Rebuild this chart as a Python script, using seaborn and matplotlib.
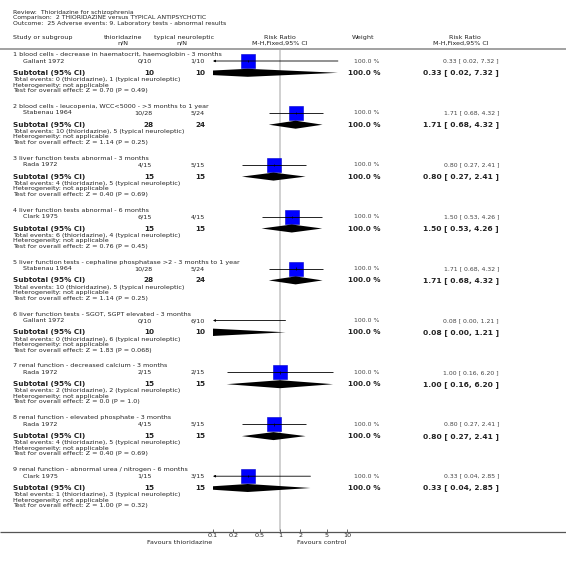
import numpy as np
import pandas as pd
import seaborn as sns
import matplotlib.pyplot as plt

sns.set_theme(style="white")
plt.rcParams['font.family'] = ['DejaVu Sans']

# ---------------------------------------
# data
review = "Review:  Thioridazine for schizophrenia"
comparison = "Comparison:  2 THIORIDAZINE versus TYPICAL ANTIPSYCHOTIC"
outcome = "Outcome:  25 Adverse events: 9. Laboratory tests - abnormal results"

groups = [
    "1 blood cells - decrease in haematocrit, haemoglobin - 3 months",
    "2 blood cells - leucopenia, WCC<5000 - >3 months to 1 year",
    "3 liver function tests abnormal - 3 months",
    "4 liver function tests abnormal - 6 months",
    "5 liver function tests - cephaline phosphatase >2 - 3 months to 1 year",
    "6 liver function tests - SGOT, SGPT elevated - 3 months",
    "7 renal function - decreased calcium - 3 months",
    "8 renal function - elevated phosphate - 3 months",
    "9 renal function - abnormal urea / nitrogen - 6 months",
]
studies = ["Gallant 1972", "Stabenau 1964", "Rada 1972", "Clark 1975", "Stabenau 1964",
           "Gallant 1972", "Rada 1972", "Rada 1972", "Clark 1975"]
thio_events = [0, 10, 4, 6, 10, 0, 2, 4, 1]
thio_n = [10, 28, 15, 15, 28, 10, 15, 15, 15]
ctrl_events = [1, 5, 5, 4, 5, 6, 2, 5, 3]
ctrl_n = [10, 24, 15, 15, 24, 10, 15, 15, 15]
rr = [0.33, 1.71, 0.80, 1.50, 1.71, 0.08, 1.00, 0.80, 0.33]
rr_lo = [0.02, 0.68, 0.27, 0.53, 0.68, 0.00, 0.16, 0.27, 0.04]
rr_hi = [7.32, 4.32, 2.41, 4.26, 4.32, 1.21, 6.20, 2.41, 2.85]
weight = [100.0] * 9
z_vals = ["0.70", "1.14", "0.40", "0.76", "1.14", "1.83", "0.0", "0.40", "1.00"]
p_vals = ["0.49", "0.25", "0.69", "0.45", "0.25", "0.068", "1.0", "0.69", "0.32"]

ticks = [0.1, 0.2, 0.5, 1, 2, 5, 10]
tick_labels = ["0.1", "0.2", "0.5", "1", "2", "5", "10"]

# ---------------------------------------
# layout (pixel rows)
W, H = 566, 561
g0, gstep = 54.5, 51.9
df = pd.DataFrame({"study": studies, "rr": rr, "lo": rr_lo, "hi": rr_hi})
df["y_head"] = g0 + gstep * np.arange(len(groups))
df["y_study"] = df["y_head"] + 6.5
df["y_sub"] = df["y_head"] + 18.3

fig = plt.figure(figsize=(W / 100, H / 100), dpi=100)
bg = fig.add_axes([0, 0, 1, 1])
bg.set_xlim(0, W)
bg.set_ylim(H, 0)
bg.axis("off")

ax = fig.add_axes([213 / W, 0, 134 / W, 1])
ax.patch.set_alpha(0)

fs, fs_small, fs_bold, fs_bold_ci = 4.6, 4.4, 5.2, 5.4
tc = "#222222"
sc = "#444444"

# titles and headers
for y, t in zip([12.2, 17.8, 23.4], [review, comparison, outcome]):
    bg.text(13, y, t, fontsize=4.4, va="center", color=tc)
bg.text(13, 37.3, "Study or subgroup", fontsize=fs, va="center", color=tc)
bg.text(123, 37.3, "thioridazine", fontsize=fs, va="center", ha="center", color=tc)
bg.text(123, 43.3, "n/N", fontsize=fs, va="center", ha="center", color=tc)
bg.text(184, 37.3, "typical neuroleptic", fontsize=fs, va="center", ha="center", color=tc)
bg.text(182, 43.3, "n/N", fontsize=fs, va="center", ha="center", color=tc)
bg.text(280, 37.3, "Risk Ratio", fontsize=fs, va="center", ha="center", color=tc)
bg.text(280, 43.3, "M-H,Fixed,95% CI", fontsize=fs, va="center", ha="center", color=tc)
bg.text(363, 37.3, "Weight", fontsize=fs, va="center", ha="center", color=tc)
bg.text(465, 37.3, "Risk Ratio", fontsize=fs, va="center", ha="center", color=tc)
bg.text(461, 43.3, "M-H,Fixed,95% CI", fontsize=fs, va="center", ha="center", color=tc)

bg.hlines(49, 0, W, color="#9a9a9a", lw=1.3)
bg.hlines(531.5, 0, W, color="#555555", lw=0.9)

# squares (all weights 100 %), only those whose estimate lies inside the axis
sns.scatterplot(data=df[(df["rr"] >= 0.1) & (df["rr"] <= 10)], x="rr", y="y_study",
                marker="s", s=100, color="#0000ff", edgecolor="#0000cc",
                linewidth=0.4, ax=ax, legend=False, zorder=2)
ax.set_xscale("log")
ax.set_xlim(0.1, 10)
ax.set_ylim(H, 0)
ax.axis("off")

# line of no effect
ax.vlines(1, 49.8, 531, color="#d0d0d0", lw=1.4, zorder=0)

for i, r in df.iterrows():
    y = r["y_head"]
    bg.text(13, y, groups[i], fontsize=fs, va="center", color=tc)
    ys = r["y_study"]
    bg.text(23, ys, r["study"], fontsize=fs, va="center", color=tc)
    bg.text(152, ys, f"{thio_events[i]}/{thio_n[i]}", fontsize=fs, va="center", ha="right", color=tc)
    bg.text(205, ys, f"{ctrl_events[i]}/{ctrl_n[i]}", fontsize=fs, va="center", ha="right", color=tc)
    bg.text(379, ys, f"{weight[i]:.1f} %", fontsize=fs_small, va="center", ha="right", color=sc)
    ci = f"{r['rr']:.2f} [ {r['lo']:.2f}, {r['hi']:.2f} ]"
    bg.text(499, ys, ci, fontsize=fs_small, va="center", ha="right", color=sc)

    # study CI line
    lo, hi = r["lo"], r["hi"]
    if lo < 0.1:
        ax.annotate("", xy=(0.1, ys), xytext=(min(hi, 10), ys),
                    arrowprops=dict(arrowstyle="-|>", color="black", lw=0.6,
                                    mutation_scale=3, shrinkA=0, shrinkB=0), zorder=3)
    else:
        ax.hlines(ys, lo, min(hi, 10), color="black", lw=0.6, zorder=3)
    if 0.1 <= r["rr"] <= 10:
        ax.vlines(r["rr"], ys - 1.2, ys + 1.2, color="black", lw=0.5, zorder=3)

    # subtotal
    yb = r["y_sub"]
    bg.text(13, yb, "Subtotal (95% CI)", fontsize=fs_bold, fontweight="bold", va="center", color=tc)
    bg.text(154, yb, f"{thio_n[i]}", fontsize=fs_bold, fontweight="bold", va="center", ha="right", color=tc)
    bg.text(205, yb, f"{ctrl_n[i]}", fontsize=fs_bold, fontweight="bold", va="center", ha="right", color=tc)
    bg.text(380, yb, f"{weight[i]:.1f} %", fontsize=fs_bold, fontweight="bold", va="center", ha="right", color=tc)
    bg.text(499, yb, ci, fontsize=fs_bold_ci, fontweight="bold", va="center", ha="right", color=tc)
    dlo = max(lo, 0.001)
    ax.fill([dlo, r["rr"], hi, r["rr"]], [yb, yb - 4, yb, yb + 4], color="black", lw=0, zorder=3)

    bg.text(13, y + 25, f"Total events: {thio_events[i]} (thioridazine), {ctrl_events[i]} (typical neuroleptic)",
            fontsize=fs, va="center", color=tc)
    bg.text(13, y + 30.5, "Heterogeneity: not applicable", fontsize=fs, va="center", color=tc)
    bg.text(13, y + 36, f"Test for overall effect: Z = {z_vals[i]} (P = {p_vals[i]})",
            fontsize=fs, va="center", color=tc)

# axis ticks
ax.vlines(ticks, 529, 531.5, color="#555555", lw=0.6, clip_on=False)
for t, lab in zip(ticks, tick_labels):
    ax.text(t, 535.5, lab, fontsize=fs, ha="center", va="center", color=tc, clip_on=False)
bg.text(212, 542.3, "Favours thioridazine", fontsize=fs, ha="right", va="center", color=tc)
bg.text(297, 542.3, "Favours control", fontsize=fs, ha="left", va="center", color=tc)

plt.savefig("out.png", dpi=100)
